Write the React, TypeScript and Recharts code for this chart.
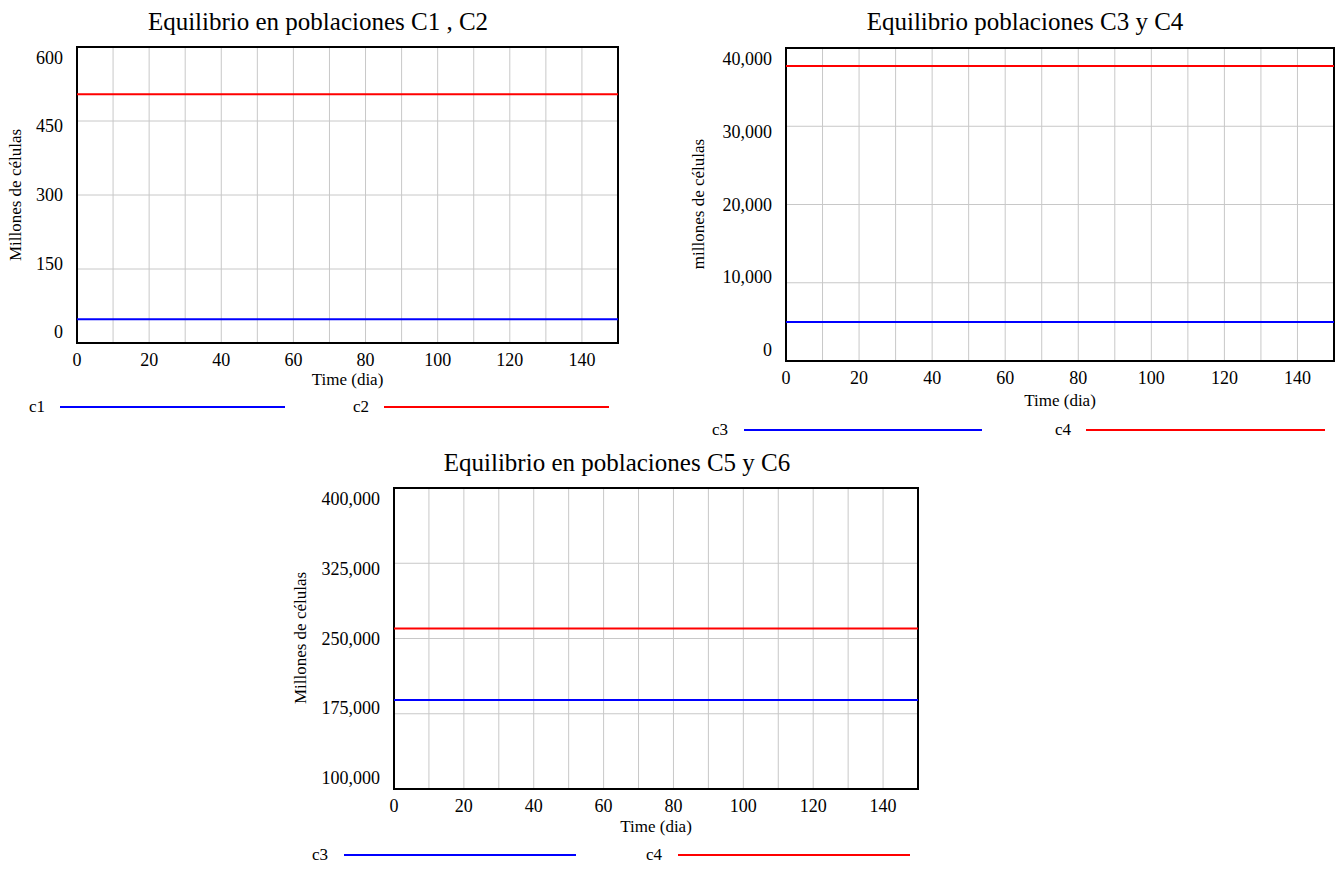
import { LineChart, Line, XAxis, YAxis, CartesianGrid, ReferenceArea } from 'recharts';

const FONT = '"Liberation Serif", "Times New Roman", serif';

// simulated time (dia) and the equilibrium values
const time = [0, 75, 150];
const c1 = [48, 48, 48];
const c2 = [504, 504, 504];
const c3 = [5000, 5000, 5000];
const c4 = [37700, 37700, 37700];
const c5 = [188700, 188700, 188700];
const c6 = [260000, 260000, 260000];

const xGrid = [0, 10, 20, 30, 40, 50, 60, 70, 80, 90, 100, 110, 120, 130, 140, 150];
const xTickLabels = [0, 20, 40, 60, 80, 100, 120, 140];
const yTicks1 = [0, 150, 300, 450, 600];
const yTicks2 = [0, 10000, 20000, 30000, 40000];
const yTicks3 = [100000, 175000, 250000, 325000, 400000];

const BLUE = '#0000FF';
const RED = '#FF0000';

interface LegendItem {
  name: string;
  color: string;
  textX: number;
  lineX1: number;
  lineX2: number;
}

interface PanelProps {
  region: { x: number; y: number; w: number; h: number };
  plot: { left: number; right: number; top: number; bottom: number };
  title: string;
  titleX: number;
  titleY: number;
  yLabel: string;
  yLabelX: number;
  yLabelY: number;
  xLabelY: number;
  legendY: number;
  legend: LegendItem[];
  a: number[];
  b: number[];
  domain: [number, number];
  yTicks: number[];
}

function Panel(p: PanelProps) {
  const { region, plot } = p;
  const data = time.map((t, i) => ({ t, a: p.a[i], b: p.b[i] }));
  const yAxisW = 50;
  const xAxisH = 30;
  const margin = {
    top: plot.top - region.y,
    left: plot.left - region.x - yAxisW,
    right: region.x + region.w - plot.right,
    bottom: region.y + region.h - plot.bottom - xAxisH,
  };
  const yc = (plot.top + plot.bottom) / 2 - region.y;
  const labelLeft = plot.left - region.x - 14;
  const tickY = plot.bottom - region.y + 16.5;

  // Vensim squeezes the value labels a bit toward the middle of the axis
  const YTick = (props: any) => {
    const y = yc + 0.927 * (props.y - yc);
    return (
      <text x={labelLeft} y={y} textAnchor="end" dominantBaseline="central" fontFamily={FONT} fontSize={18} fill="#000">
        {Number(props.payload.value).toLocaleString('en-US')}
      </text>
    );
  };

  const XTick = (props: any) => {
    if (!xTickLabels.includes(props.payload.value)) return <g />;
    return (
      <text x={props.x} y={tickY} textAnchor="middle" dominantBaseline="central" fontFamily={FONT} fontSize={18} fill="#000">
        {props.payload.value}
      </text>
    );
  };

  const abs = (x: number, y: number) => ({ left: x - region.x, top: y - region.y });

  return (
    <div style={{ position: 'absolute', left: region.x, top: region.y, width: region.w, height: region.h, fontFamily: FONT, color: '#000' }}>
      <LineChart width={region.w} height={region.h} data={data} margin={margin}>
        <CartesianGrid stroke="#c8c8c8" strokeWidth={1} />
        <XAxis
          dataKey="t"
          type="number"
          domain={[0, 150]}
          ticks={xGrid}
          height={xAxisH}
          tickLine={false}
          axisLine={false}
          tick={XTick}
          interval={0}
        />
        <YAxis
          type="number"
          domain={p.domain}
          ticks={p.yTicks}
          width={yAxisW}
          tickLine={false}
          axisLine={false}
          tick={YTick}
          interval={0}
          allowDataOverflow
        />
        <Line dataKey="a" name={p.legend[0].name} stroke={p.legend[0].color} strokeWidth={2} dot={false} isAnimationActive={false} />
        <Line dataKey="b" name={p.legend[1].name} stroke={p.legend[1].color} strokeWidth={2} dot={false} isAnimationActive={false} />
        <ReferenceArea x1={0} x2={150} y1={p.domain[0]} y2={p.domain[1]} fill="none" fillOpacity={0} stroke="#000" strokeWidth={2} ifOverflow="visible" />
      </LineChart>
      <div style={{ position: 'absolute', ...abs(p.titleX, p.titleY), transform: 'translate(-50%, -50%)', fontSize: 25, whiteSpace: 'nowrap' }}>
        {p.title}
      </div>
      <div style={{ position: 'absolute', ...abs(p.yLabelX, p.yLabelY), transform: 'translate(-50%, -50%) rotate(-90deg)', fontSize: 17, whiteSpace: 'nowrap' }}>
        {p.yLabel}
      </div>
      <div style={{ position: 'absolute', ...abs((plot.left + plot.right) / 2, p.xLabelY), transform: 'translate(-50%, -50%)', fontSize: 17, whiteSpace: 'nowrap' }}>
        Time (dia)
      </div>
      {p.legend.map((it) => (
        <div key={it.name + it.textX}>
          <div style={{ position: 'absolute', ...abs(it.textX, p.legendY), transform: 'translate(0, -50%)', fontSize: 17 }}>{it.name}</div>
          <div style={{ position: 'absolute', ...abs(it.lineX1, p.legendY - 1), width: it.lineX2 - it.lineX1, height: 2, background: it.color }} />
        </div>
      ))}
    </div>
  );
}

export default function App() {
  return (
    <div style={{ position: 'absolute', left: 0, top: 0, width: 1341, height: 869, background: '#fff' }}>
      <Panel
        region={{ x: 0, y: 0, w: 680, h: 440 }}
        plot={{ left: 77, right: 618, top: 47, bottom: 343 }}
        title="Equilibrio en poblaciones C1 , C2"
        titleX={318}
        titleY={22}
        yLabel="Millones de células"
        yLabelX={16}
        yLabelY={195}
        xLabelY={380}
        legendY={407}
        legend={[
          { name: 'c1', color: BLUE, textX: 29, lineX1: 60, lineX2: 285 },
          { name: 'c2', color: RED, textX: 353, lineX1: 384, lineX2: 609 },
        ]}
        a={c1}
        b={c2}
        domain={[0, 600]}
        yTicks={yTicks1}
      />
      <Panel
        region={{ x: 680, y: 0, w: 661, h: 440 }}
        plot={{ left: 786, right: 1334, top: 48, bottom: 361 }}
        title="Equilibrio poblaciones C3 y C4"
        titleX={1025}
        titleY={22}
        yLabel="millones de células"
        yLabelX={699}
        yLabelY={204}
        xLabelY={401}
        legendY={430}
        legend={[
          { name: 'c3', color: BLUE, textX: 712, lineX1: 744, lineX2: 982 },
          { name: 'c4', color: RED, textX: 1055, lineX1: 1086, lineX2: 1325 },
        ]}
        a={c3}
        b={c4}
        domain={[0, 40000]}
        yTicks={yTicks2}
      />
      <Panel
        region={{ x: 280, y: 440, w: 660, h: 429 }}
        plot={{ left: 394, right: 918, top: 488, bottom: 789 }}
        title="Equilibrio en poblaciones C5 y C6"
        titleX={617}
        titleY={463}
        yLabel="Millones de células"
        yLabelX={301}
        yLabelY={638}
        xLabelY={827}
        legendY={855}
        legend={[
          { name: 'c3', color: BLUE, textX: 312, lineX1: 344, lineX2: 576 },
          { name: 'c4', color: RED, textX: 646, lineX1: 678, lineX2: 910 },
        ]}
        a={c5}
        b={c6}
        domain={[100000, 400000]}
        yTicks={yTicks3}
      />
    </div>
  );
}
